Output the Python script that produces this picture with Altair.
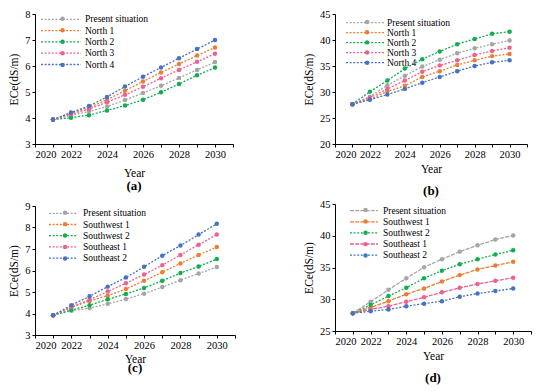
import altair as alt
import pandas as pd

years = list(range(2021, 2031))

names_ab = ["Present situation", "North 1", "North 2", "North 3", "North 4"]
names_cd = ["Present situation", "Southwest 1", "Southwest 2", "Southeast 1", "Southeast 2"]
colors = ["#A5A5A5", "#ED7D31", "#13AD4F", "#EE6190", "#4472C4"]

a_present = [3.94, 4.10, 4.25, 4.44, 4.69, 4.96, 5.24, 5.54, 5.85, 6.15]
a_north1 = [3.94, 4.19, 4.40, 4.70, 5.05, 5.40, 5.75, 6.08, 6.40, 6.71]
a_north2 = [3.94, 4.01, 4.11, 4.29, 4.48, 4.70, 4.99, 5.31, 5.64, 5.94]
a_north3 = [3.94, 4.15, 4.34, 4.61, 4.89, 5.20, 5.53, 5.85, 6.16, 6.47]
a_north4 = [3.94, 4.21, 4.46, 4.81, 5.21, 5.59, 5.94, 6.30, 6.65, 7.00]

b_present = [27.65, 29.1, 31.3, 33.1, 34.9, 36.2, 37.45, 38.4, 39.2, 39.9]
b_north1 = [27.65, 28.6, 30.1, 31.2, 32.9, 34.0, 35.2, 36.1, 36.9, 37.3]
b_north2 = [27.65, 30.07, 32.2, 34.5, 36.3, 37.8, 39.2, 40.2, 41.2, 41.6]
b_north3 = [27.65, 28.9, 30.6, 32.2, 33.9, 35.1, 36.1, 37.1, 37.9, 38.5]
b_north4 = [27.65, 28.5, 29.5, 30.6, 31.8, 32.9, 34.0, 35.0, 35.7, 36.1]

c_present = [3.92, 4.13, 4.25, 4.45, 4.67, 4.92, 5.23, 5.55, 5.86, 6.16]
c_sw1 = [3.92, 4.28, 4.58, 4.83, 5.14, 5.52, 5.92, 6.33, 6.72, 7.09]
c_sw2 = [3.92, 4.16, 4.38, 4.66, 4.91, 5.19, 5.52, 5.88, 6.19, 6.53]
c_se1 = [3.92, 4.31, 4.64, 5.02, 5.41, 5.81, 6.25, 6.72, 7.20, 7.67]
c_se2 = [3.92, 4.39, 4.80, 5.25, 5.67, 6.17, 6.69, 7.16, 7.67, 8.17]

d_present = [27.8, 29.6, 31.5, 33.3, 35.05, 36.3, 37.5, 38.5, 39.4, 40.05]
d_sw1 = [27.8, 28.7, 29.7, 30.8, 31.7, 32.8, 33.8, 34.7, 35.3, 35.9]
d_sw2 = [27.8, 29.1, 30.5, 31.8, 33.3, 34.5, 35.5, 36.3, 37.05, 37.7]
d_se1 = [27.8, 28.4, 28.9, 29.6, 30.3, 31.1, 31.8, 32.4, 32.9, 33.4]
d_se2 = [27.8, 28.1, 28.4, 28.9, 29.3, 29.7, 30.4, 30.9, 31.3, 31.7]

dot = [2, 1.6]
dash = [4, 1.2]
dashes_a = [dot, dot, dot, dot, dot]
dashes_b = [dot, dot, dot, dot, dot]
dashes_c = [dot, dot, dot, dot, dot]
dashes_d = [dash, dash, dot, dash, dot]

FONT = "Liberation Serif"
ROW_H = 10.0
PT_ROW_H = 10.75
IND = dict(color="independent", strokeDash="independent", fill="independent")


def panel(names, values, dashes, ydom, ystep, w, h, caption, lx, half, ls, r0, rs,
          title_pad, cap_offset):
    rows = []
    for name, vals in zip(names, values):
        for yr, v in zip(years, vals):
            rows.append({"year": yr, "ece": v, "series": name, "series_pt": name})
    df = pd.DataFrame(rows)

    x = alt.X("year:Q",
              scale=alt.Scale(domain=[2020, 2031], nice=False, zero=False),
              axis=alt.Axis(title="Year", values=list(range(2020, 2032)),
                            labelExpr="datum.value % 2 == 0 && datum.value < 2031 ? datum.value : ''",
                            labelOverlap=False, titlePadding=title_pad))
    y = alt.Y("ece:Q",
              scale=alt.Scale(domain=ydom, nice=False, zero=False),
              axis=alt.Axis(title="ECe(dS/m)", values=list(range(ydom[0], ydom[1] + 1, ystep)),
                            titlePadding=5))

    lx0 = lx - 4
    line_legend = alt.Legend(title=None, orient="none", legendX=lx0, legendY=r0 - ROW_H / 2,
                             symbolType=f"M-{half / 4:.2f},0H{half / 4:.2f}", symbolSize=64,
                             symbolStrokeWidth=1.3, labelOffset=ls - (lx0 + 8),
                             labelFont=FONT, labelFontSize=9.5, labelColor="black",
                             rowPadding=rs - ROW_H, padding=0, labelLimit=200)
    pt_legend = alt.Legend(title=None, orient="none", legendX=lx - 2.2, legendY=r0 - PT_ROW_H / 2,
                           symbolType="circle", symbolSize=20, symbolOpacity=1,
                           labelFont=FONT, labelFontSize=9.5, labelOpacity=0,
                           rowPadding=rs - PT_ROW_H, padding=0)

    lines = alt.Chart(df).mark_line(strokeWidth=1.3).encode(
        x=x, y=y,
        color=alt.Color("series:N", scale=alt.Scale(domain=names, range=colors), legend=line_legend),
        strokeDash=alt.StrokeDash("series:N", scale=alt.Scale(domain=names, range=dashes), legend=line_legend),
    )
    pts = alt.Chart(df).mark_circle(size=20, opacity=1).encode(
        x=x, y=y,
        fill=alt.Fill("series_pt:N", sort=names, scale=alt.Scale(range=colors), legend=pt_legend),
    )
    return alt.layer(lines, pts).properties(
        width=w, height=h,
        title=alt.TitleParams(text=caption, orient="bottom", fontSize=13, fontWeight="bold",
                              font=FONT, color="black", offset=cap_offset, anchor="middle"),
    )


pa = panel(names_ab, [a_present, a_north1, a_north2, a_north3, a_north4], dashes_a,
           [3, 8], 1, 198, 130, "(a)", 25, 20, 48, 5.3, 11.3, 8, 1)
pb = panel(names_ab, [b_present, b_north1, b_north2, b_north3, b_north4], dashes_b,
           [20, 45], 5, 192, 130, "(b)", 29.5, 19.5, 50, 8.7, 9.9, 4, 10)
pc = panel(names_cd, [c_present, c_sw1, c_sw2, c_se1, c_se2], dashes_c,
           [3, 9], 1, 200, 129, "(c)", 27.5, 14.5, 46, 7.3, 11.2, 3, -3)
pd_ = panel(names_cd, [d_present, d_sw1, d_sw2, d_se1, d_se2], dashes_d,
            [25, 45], 5, 196, 127, "(d)", 28, 14, 46, 6.7, 11.1, 4, 10)

col1 = alt.vconcat(pa, pc, spacing=6).resolve_scale(**IND).resolve_legend(**IND)
col2 = alt.vconcat(pb, pd_, spacing=-1).resolve_scale(**IND).resolve_legend(**IND)

chart = alt.hconcat(col1, col2, spacing=67).resolve_scale(**IND).resolve_legend(**IND).properties(
    padding={"left": 0, "top": 0, "right": 0, "bottom": 0}
).configure_view(stroke="transparent").configure_axis(
    grid=False, domainColor="black", tickColor="black", labelColor="black", titleColor="black",
    labelFont=FONT, titleFont=FONT, labelFontSize=10.5, titleFontSize=11.5,
    titleFontWeight="normal", tickSize=3, labelPadding=2, domainWidth=1, tickWidth=1
)

chart.save("out.html", embed_options={"renderer": "svg", "actions": False})
